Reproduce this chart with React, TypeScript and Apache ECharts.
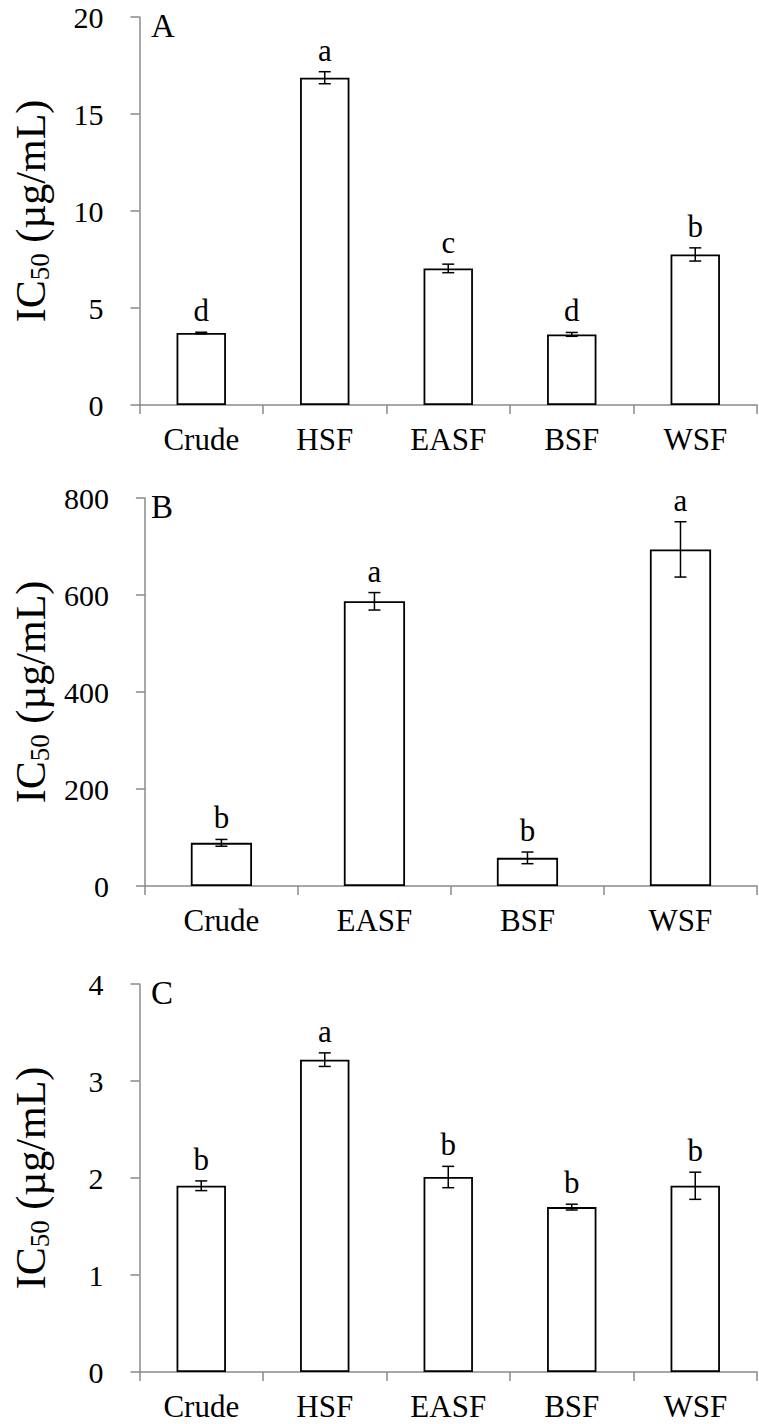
import React, { useEffect, useRef } from "react";
import * as echarts from "echarts";

// ---------- data ----------
const catsA = ["Crude", "HSF", "EASF", "BSF", "WSF"];
const valsA = [3.71, 16.87, 7.04, 3.64, 7.76];
const errA = [0.04, 0.31, 0.22, 0.1, 0.34];
const sigA = ["d", "a", "c", "d", "b"];

const catsB = ["Crude", "EASF", "BSF", "WSF"];
const valsB = [89, 587, 58, 694];
const errB = [7, 18, 12, 57];
const sigB = ["b", "a", "b", "a"];

const catsC = ["Crude", "HSF", "EASF", "BSF", "WSF"];
const valsC = [1.92, 3.22, 2.01, 1.7, 1.92];
const errC = [0.05, 0.07, 0.11, 0.03, 0.14];
const sigC = ["b", "a", "b", "b", "b"];

const yMax = [20, 800, 4];
const yInterval = [5, 200, 1];
const panelLetters = ["A", "B", "C"];

// ---------- layout ----------
const FONT = '"Liberation Serif", "Times New Roman", serif';
const gridTops = [17, 498, 984];
const gridH = 388;
const gridLeft = 127;
const gridRight = 2;
const AXIS = "#8a8a8a";

export default function App() {
  const ref = useRef<HTMLDivElement>(null);

  useEffect(() => {
    document.body.style.margin = "0";
    if (!ref.current) return;
    const chart = echarts.init(ref.current, undefined, { renderer: "svg" });

    const panels = [
      { cats: catsA, vals: valsA, errs: errA, sigs: sigA },
      { cats: catsB, vals: valsB, errs: errB, sigs: sigB },
      { cats: catsC, vals: valsC, errs: errC, sigs: sigC },
    ];

    const grid = panels.map((_, k) => ({
      left: gridLeft,
      right: gridRight,
      top: gridTops[k],
      height: gridH,
      containLabel: false,
    }));

    const xAxis = panels.map((p, k) => ({
      type: "category",
      gridIndex: k,
      data: p.cats,
      axisLine: { show: true, lineStyle: { color: AXIS, width: 1.5 } },
      axisTick: { show: true, length: 9, interval: 0, lineStyle: { color: AXIS, width: 1.5 } },
      axisLabel: {
        color: "#000",
        fontFamily: FONT,
        fontSize: 31,
        lineHeight: 30,
        margin: 19,
        interval: 0,
      },
      splitLine: { show: false },
    }));

    const yAxis = panels.map((_, k) => ({
      type: "value",
      gridIndex: k,
      min: 0,
      max: yMax[k],
      interval: yInterval[k],
      axisLine: { show: true, lineStyle: { color: AXIS, width: 1.5 } },
      axisTick: { show: true, length: 9, lineStyle: { color: AXIS, width: 1.5 } },
      axisLabel: { color: "#000", fontFamily: FONT, fontSize: 30, lineHeight: 26, margin: 36 },
      splitLine: { show: false },
      name: "{a|IC}{s|50}{a| (µg/mL)}",
      nameLocation: "middle",
      nameRotate: 90,
      nameGap: 85,
      nameTextStyle: {
        color: "#000",
        fontFamily: FONT,
        rich: {
          a: { fontFamily: FONT, fontSize: 42, color: "#000", lineHeight: 48 },
          s: { fontFamily: FONT, fontSize: 27, color: "#000", lineHeight: 48, padding: [18, 0, 0, 0] },
        },
      },
    }));

    const series: any[] = [];
    panels.forEach((p, k) => {
      series.push({
        type: "bar",
        xAxisIndex: k,
        yAxisIndex: k,
        data: p.vals,
        barCategoryGap: "60%",
        itemStyle: { color: "#fff", borderColor: "#000", borderWidth: 1.8 },
        z: 2,
      });
      series.push({
        type: "custom",
        xAxisIndex: k,
        yAxisIndex: k,
        data: p.vals.map((v, i) => [i, v, p.errs[i]]),
        encode: { x: 0, y: 1 },
        z: 5,
        renderItem: (params: any, api: any) => {
          const i = api.value(0);
          const v = api.value(1);
          const e = api.value(2);
          const top = api.coord([i, v + e]);
          const bot = api.coord([i, v - e]);
          const hw = 6;
          const st = { stroke: "#000", lineWidth: 1.5 };
          return {
            type: "group",
            children: [
              { type: "line", shape: { x1: top[0], y1: top[1], x2: bot[0], y2: bot[1] }, style: st },
              { type: "line", shape: { x1: top[0] - hw, y1: top[1], x2: top[0] + hw, y2: top[1] }, style: st },
              { type: "line", shape: { x1: bot[0] - hw, y1: bot[1], x2: bot[0] + hw, y2: bot[1] }, style: st },
              {
                type: "text",
                x: top[0],
                y: top[1] - 6,
                style: {
                  text: p.sigs[params.dataIndex],
                  fill: "#000",
                  fontFamily: FONT,
                  fontSize: 31,
                  align: "center",
                  verticalAlign: "bottom",
                },
              },
            ],
          };
        },
      });
    });

    const graphic = panelLetters.map((t, k) => ({
      type: "text",
      left: 151,
      top: gridTops[k] - 8,
      style: { text: t, fill: "#000", fontFamily: FONT, fontSize: 33 },
    }));

    chart.setOption({
      animation: false,
      backgroundColor: "#fff",
      grid,
      xAxis,
      yAxis,
      series,
      graphic,
    });

    return () => chart.dispose();
  }, []);

  return (
    <div
      ref={ref}
      style={{ position: "absolute", left: 0, top: 0, width: 759, height: 1424 }}
    />
  );
}
